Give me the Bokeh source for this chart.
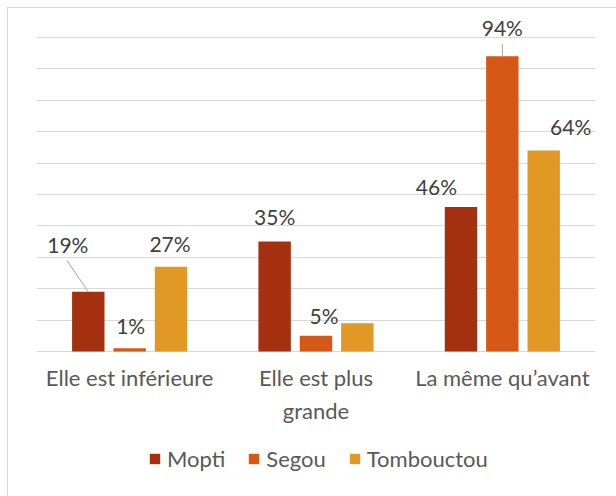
from bokeh.plotting import figure
from bokeh.models import ColumnDataSource, FactorRange, Range1d, FixedTicker, Legend, LegendItem
from bokeh.transform import dodge
from bokeh.core.properties import value
from bokeh.embed import file_html
from bokeh.resources import INLINE

# ---- data ----
categories = ["Elle est inférieure", "Elle est plus\ngrande", "La même qu’avant"]
series = ["Mopti", "Segou", "Tombouctou"]
mopti = [19, 35, 46]
segou = [1, 5, 94]
tombouctou = [27, 9, 64]
labels_mopti = ["19%", "35%", "46%"]
labels_segou = ["1%", "5%", "94%"]
labels_tombouctou = ["27%", "", "64%"]
y_ticks = [0, 10, 20, 30, 40, 50, 60, 70, 80, 90, 100]

# ---- styles / positions ----
colors = ["#A5300F", "#D55816", "#E19825"]
dodges = [-0.222, 0.0, 0.222]
bar_width = 0.174
# label offsets in screen pixels (dx, dy) from the top centre of each bar
label_dx = [[-20.5, 0, -24.5], [1, 8, 0], [-1, 0, 27]]
label_dy = [[-47, -25.5, -21], [-23, -20.5, -28.5], [-23.5, 0, -24]]
FONT = "Lato"
FS_LBL = "21px"
FS_CAT = "22px"

# frame covers the whole canvas so that category labels and legend are not clipped
p = figure(
    x_range=FactorRange(factors=categories),
    y_range=Range1d(-46.18, 109.24),
    frame_width=559, frame_height=488,
    min_border_left=28, min_border_right=21, min_border_top=0, min_border_bottom=0,
    y_axis_location=None, x_axis_location=None,
    output_backend="svg", toolbar_location=None,
    background_fill_color="white", border_fill_color="white",
)
p.styles = {"border-left": "1px solid #d9d9d9", "border-top": "1px solid #d9d9d9",
            "margin-left": "7px", "margin-top": "7px"}
p.outline_line_color = None
p.xgrid.grid_line_color = None
p.ygrid.ticker = FixedTicker(ticks=y_ticks)
p.ygrid.grid_line_color = "#d9d9d9"
p.ygrid.grid_line_width = 1

source = ColumnDataSource(dict(
    cat=categories,
    Mopti=mopti, Segou=segou, Tombouctou=tombouctou,
))

# category labels under the baseline
cat_src = ColumnDataSource(dict(cat=categories, y=[0] * len(categories)))
p.text(x="cat", y="y", text="cat", source=cat_src, y_offset=12,
       text_font=value(FONT), text_font_size=FS_CAT, text_color="#595959",
       text_align="center", text_baseline="top", text_line_height=1.25)

values = [mopti, segou, tombouctou]
labels = [labels_mopti, labels_segou, labels_tombouctou]
items = []
for i, s in enumerate(series):
    r = p.vbar(x=dodge("cat", dodges[i], range=p.x_range), top=s, width=bar_width,
               source=source, fill_color=colors[i], line_color=None)
    items.append(LegendItem(label=s, renderers=[r]))
    lsrc = ColumnDataSource(dict(cat=categories, y=values[i], txt=labels[i],
                                 dx=label_dx[i], dy=label_dy[i]))
    p.text(x=dodge("cat", dodges[i], range=p.x_range), y="y", text="txt",
           x_offset="dx", y_offset="dy", source=lsrc,
           text_font=value(FONT), text_font_size=FS_LBL, text_color="#404040",
           text_align="center", text_baseline="middle")

# leader lines (series index, category index, dx in category units, dy in value units)
leaders = [(0, 0, -0.1145, 10.0), (1, 2, 0.0, 4.05)]
for si, ci, ldx, ldy in leaders:
    v = values[si][ci]
    lsrc = ColumnDataSource(dict(cat=[categories[ci]], y0=[v + ldy], y1=[v]))
    p.segment(x0=dodge("cat", dodges[si] + ldx, range=p.x_range), y0="y0",
              x1=dodge("cat", dodges[si], range=p.x_range), y1="y1",
              source=lsrc, line_color="#a6a6a6", line_width=1)

legend = Legend(items=items, orientation="horizontal", location=(112, 24))
legend.glyph_width = 13
legend.glyph_height = 13
legend.label_standoff = 6
legend.spacing = 22
legend.label_text_font = FONT
legend.label_text_font_size = FS_CAT
legend.label_text_color = "#595959"
legend.border_line_color = None
legend.background_fill_alpha = 0
legend.padding = 0
legend.margin = 0
p.add_layout(legend, "center")

open("out.html", "w").write(file_html(p, INLINE))
